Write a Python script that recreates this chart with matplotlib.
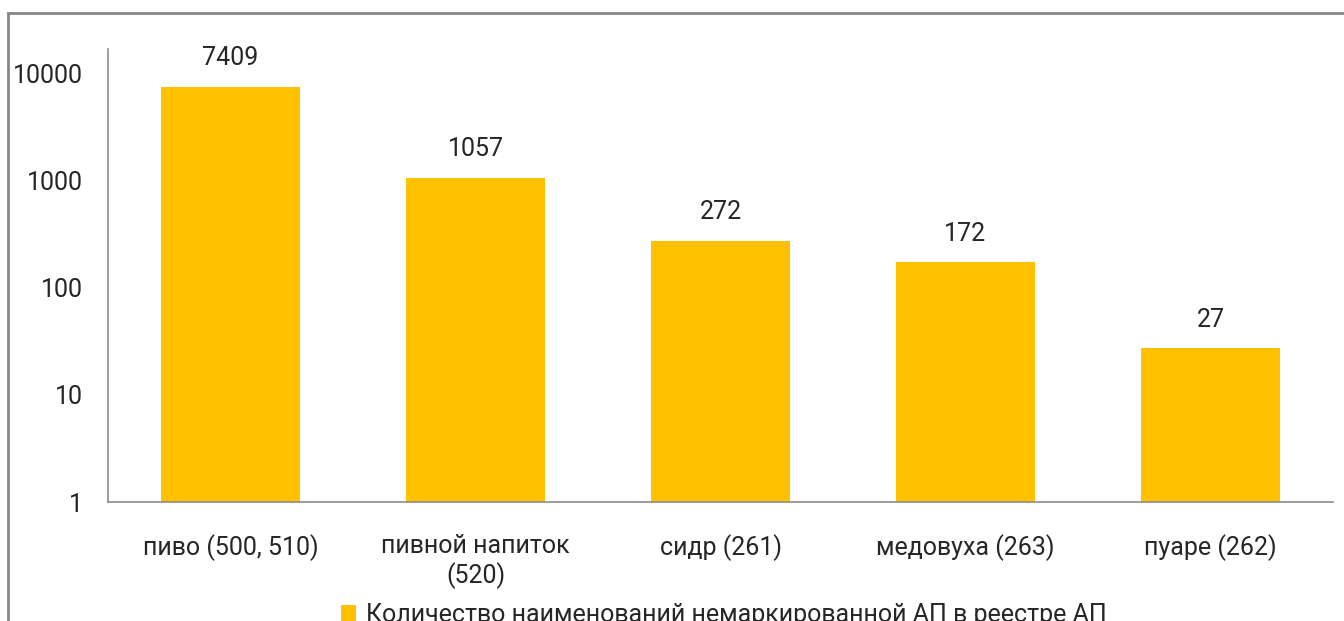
import numpy as np
import matplotlib.pyplot as plt
from matplotlib.lines import Line2D
from matplotlib.ticker import FixedLocator, FixedFormatter, NullLocator

plt.rcParams['font.family'] = ['Roboto', 'DejaVu Sans']
text_color = '#262626'
bar_color = '#FFC000'
axis_color = '#8C8C8C'

# данные
categories = ['пиво (500, 510)', 'пивной напиток\n(520)', 'сидр (261)',
              'медовуха (263)', 'пуаре (262)']
values = [7409, 1057, 272, 172, 27]
y_ticks = [1, 10, 100, 1000, 10000]
y_tick_labels = ['1', '10', '100', '1000', '10000']
legend_label = 'Количество наименований немаркированной АП в реестре АП'

fs = 18

fig = plt.figure(figsize=(13.44, 6.21), dpi=100)
ax = fig.add_axes([108 / 1344, 119 / 621, 1225 / 1344, 453 / 621])

x = np.arange(len(categories))
bars = ax.bar(x, values, width=0.567, color=bar_color, label=legend_label, zorder=2)
ax.set_yscale('log')
ax.set_ylim(1, 10 ** 4.224)
ax.set_xlim(-0.5, len(categories) - 0.5)

ax.yaxis.set_major_locator(FixedLocator(y_ticks))
ax.yaxis.set_major_formatter(FixedFormatter(y_tick_labels))
ax.yaxis.set_minor_locator(NullLocator())
ax.set_xticks(x)
ax.set_xticklabels(categories, linespacing=1.2)

ax.tick_params(axis='y', length=0, pad=18, labelsize=fs, labelcolor=text_color)
ax.tick_params(axis='x', length=0, pad=23, labelsize=fs, labelcolor=text_color)

for side in ['top', 'right']:
    ax.spines[side].set_visible(False)
for side in ['left', 'bottom']:
    ax.spines[side].set_color(axis_color)
    ax.spines[side].set_linewidth(1.2)

ax.bar_label(bars, labels=[str(v) for v in values], padding=12,
             fontsize=fs, color=text_color)

fig.legend(handles=[bars], labels=[legend_label], loc='center',
           bbox_to_anchor=(724 / 1344, 6 / 621), frameon=False, fontsize=fs,
           handlelength=0.6, handleheight=0.6, handletextpad=0.4,
           labelcolor=text_color)

# рамка области диаграммы
fig.add_artist(Line2D([8 / 1344, 8 / 1344], [0, 1 - 13 / 621],
                      transform=fig.transFigure, color='#878787', linewidth=2))
fig.add_artist(Line2D([8 / 1344, 1], [1 - 13 / 621, 1 - 13 / 621],
                      transform=fig.transFigure, color='#878787', linewidth=2))

fig.savefig('out.png', dpi=100, facecolor='white')
